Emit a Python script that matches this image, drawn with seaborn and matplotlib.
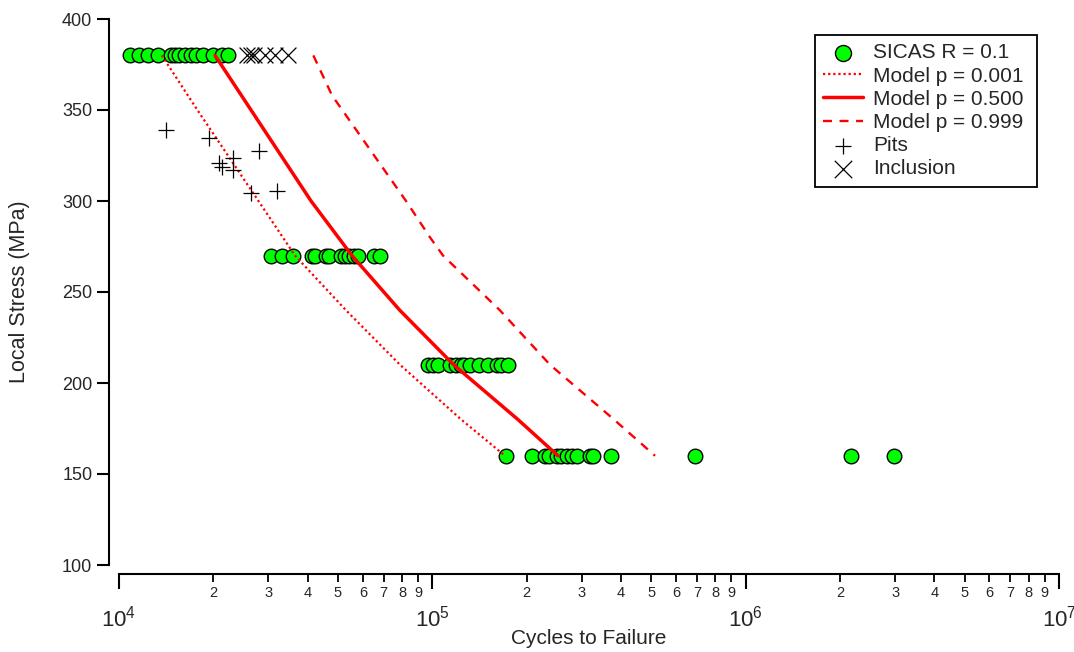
import numpy as np
import pandas as pd
import matplotlib
matplotlib.use("Agg")
import matplotlib.pyplot as plt
import matplotlib.ticker as mticker
import seaborn as sns

# ---------------- data ----------------
sicas_380_N = [1.084e4, 1.158e4, 1.238e4, 1.332e4, 1.466e4, 1.509e4, 1.554e4,
               1.624e4, 1.697e4, 1.761e4, 1.854e4, 1.996e4, 2.132e4, 2.228e4]
sicas_270_N = [3.056e4, 3.313e4, 3.593e4, 4.130e4, 4.222e4, 4.578e4, 4.680e4,
               5.112e4, 5.265e4, 5.422e4, 5.626e4, 5.793e4, 6.515e4, 6.810e4]
sicas_210_N = [9.689e4, 1.005e5, 1.043e5, 1.139e5, 1.190e5, 1.235e5, 1.262e5,
               1.319e5, 1.409e5, 1.506e5, 1.609e5, 1.657e5, 1.744e5]
sicas_160_N = [1.719e5, 2.081e5, 2.289e5, 2.358e5, 2.500e5, 2.575e5, 2.691e5,
               2.792e5, 2.896e5, 3.187e5, 3.258e5, 3.719e5, 6.896e5, 2.170e6, 2.976e6]

pits_N = [1.413e4, 1.942e4, 2.090e4, 2.127e4, 2.316e4, 2.316e4, 2.804e4, 2.633e4, 3.201e4]
pits_S = [339, 334.5, 320.7, 318.8, 323.5, 317, 327.6, 304.6, 305.5]

incl_N = [2.562e4, 2.638e4, 2.697e4, 2.924e4, 3.147e4, 3.463e4]
incl_S = [380, 380, 380, 380, 380, 380]

model_S = [380, 350, 300, 270, 240, 210, 180, 160]
model_p001_N = [1.369e4, 1.779e4, 2.787e4, 3.646e4, 5.299e4, 7.888e4, 1.235e5, 1.706e5]
model_p500_N = [2.025e4, 2.638e4, 4.101e4, 5.540e4, 7.870e4, 1.170e5, 1.874e5, 2.518e5]
model_p999_S = [380, 358, 300, 280, 270, 240, 210, 180, 160]
model_p999_N = [4.171e4, 4.785e4, 8.244e4, 9.833e4, 1.082e5, 1.642e5, 2.375e5, 3.795e5, 5.138e5]

x_major = [1e4, 1e5, 1e6, 1e7]
x_major_labels = ["10$^{4}$", "10$^{5}$", "10$^{6}$", "10$^{7}$"]
minor_digits = ["2", "3", "4", "5", "6", "7", "8", "9"]
y_ticks = [100, 150, 200, 250, 300, 350, 400]

# ---------------- style ----------------
sns.set_style("ticks")
plt.rcParams["font.family"] = ["Liberation Sans", "DejaVu Sans"]
plt.rcParams["mathtext.fontset"] = "custom"
plt.rcParams["mathtext.rm"] = "Liberation Sans"
plt.rcParams["mathtext.it"] = "Liberation Sans"
plt.rcParams["mathtext.bf"] = "Liberation Sans"

fig = plt.figure(figsize=(10.74, 6.52), dpi=100)
ax = fig.add_axes([119 / 1074, 87 / 652, 940 / 1074, 546 / 652])

sicas = pd.DataFrame({
    "N": sicas_380_N + sicas_270_N + sicas_210_N + sicas_160_N,
    "S": [380] * len(sicas_380_N) + [270] * len(sicas_270_N)
         + [210] * len(sicas_210_N) + [160] * len(sicas_160_N),
})

sns.scatterplot(data=sicas, x="N", y="S", color="#00FF00", edgecolor="black",
                linewidth=1.0, s=110, ax=ax, zorder=2, label="SICAS R = 0.1")

sns.lineplot(x=model_p001_N, y=model_S, sort=False, estimator=None, color="red",
             lw=1.6, linestyle=(0, (1, 1.3)), ax=ax, zorder=3, label="Model p = 0.001")
sns.lineplot(x=model_p500_N, y=model_S, sort=False, estimator=None, color="red",
             lw=2.5, ax=ax, zorder=3, label="Model p = 0.500")
sns.lineplot(x=model_p999_N, y=model_p999_S, sort=False, estimator=None, color="red",
             lw=1.7, linestyle=(0, (3.8, 3.2)), ax=ax, zorder=3, label="Model p = 0.999")

sns.scatterplot(x=pits_N, y=pits_S, marker="+", color="black", s=120, linewidth=0.9,
                ax=ax, zorder=4, label="Pits")
sns.scatterplot(x=incl_N, y=incl_S, marker="x", color="black", s=130, linewidth=0.9,
                ax=ax, zorder=4, label="Inclusion")

ax.set_xscale("log")
ax.set_xlim(1e4, 1e7)
ax.set_ylim(100, 400)

# spines
for side in ["top", "right"]:
    ax.spines[side].set_visible(False)
ax.spines["left"].set_position(("outward", 7.2))
ax.spines["bottom"].set_position(("outward", 6.5))
for side in ["left", "bottom"]:
    ax.spines[side].set_linewidth(1.5)
    ax.spines[side].set_color("black")

# ticks
ax.xaxis.set_major_locator(mticker.FixedLocator(x_major))
ax.xaxis.set_major_formatter(mticker.FixedFormatter(x_major_labels))
minor_locs = []
minor_labs = []
for dec in x_major[:-1]:
    for d in minor_digits:
        minor_locs.append(dec * int(d))
        minor_labs.append(d)
ax.xaxis.set_minor_locator(mticker.FixedLocator(minor_locs))
ax.xaxis.set_minor_formatter(mticker.FixedFormatter(minor_labs))
ax.tick_params(axis="x", which="major", length=11, width=1.5, labelsize=16, pad=12,
               direction="out", color="black")
ax.tick_params(axis="x", which="minor", length=5.5, width=1.3, labelsize=10.5, pad=3,
               direction="out", color="black")
ax.set_yticks(y_ticks)
ax.tick_params(axis="y", which="major", length=9, width=1.5, labelsize=13, pad=3,
               direction="out", color="black")

ax.set_xlabel("Cycles to Failure", fontsize=15, labelpad=-2)
ax.set_ylabel("Local Stress (MPa)", fontsize=15.5, labelpad=23)

# legend
handles, labels = ax.get_legend_handles_labels()
order = ["SICAS R = 0.1", "Model p = 0.001", "Model p = 0.500", "Model p = 0.999", "Pits", "Inclusion"]
hmap = dict(zip(labels, handles))
leg = ax.legend([hmap[l] for l in order], order, loc="upper left", mode="expand",
                bbox_to_anchor=(815 / 1074, 1 - 185 / 652, 222 / 1074, 150 / 652),
                bbox_transform=fig.transFigure,
                borderaxespad=0, fontsize=15, frameon=True, fancybox=False,
                edgecolor="black", framealpha=1, labelspacing=0.2,
                handlelength=1.9, handletextpad=0.5, borderpad=0.4, markerscale=1.1)
leg.get_frame().set_linewidth(1.3)

fig.savefig("out.png", dpi=100)
